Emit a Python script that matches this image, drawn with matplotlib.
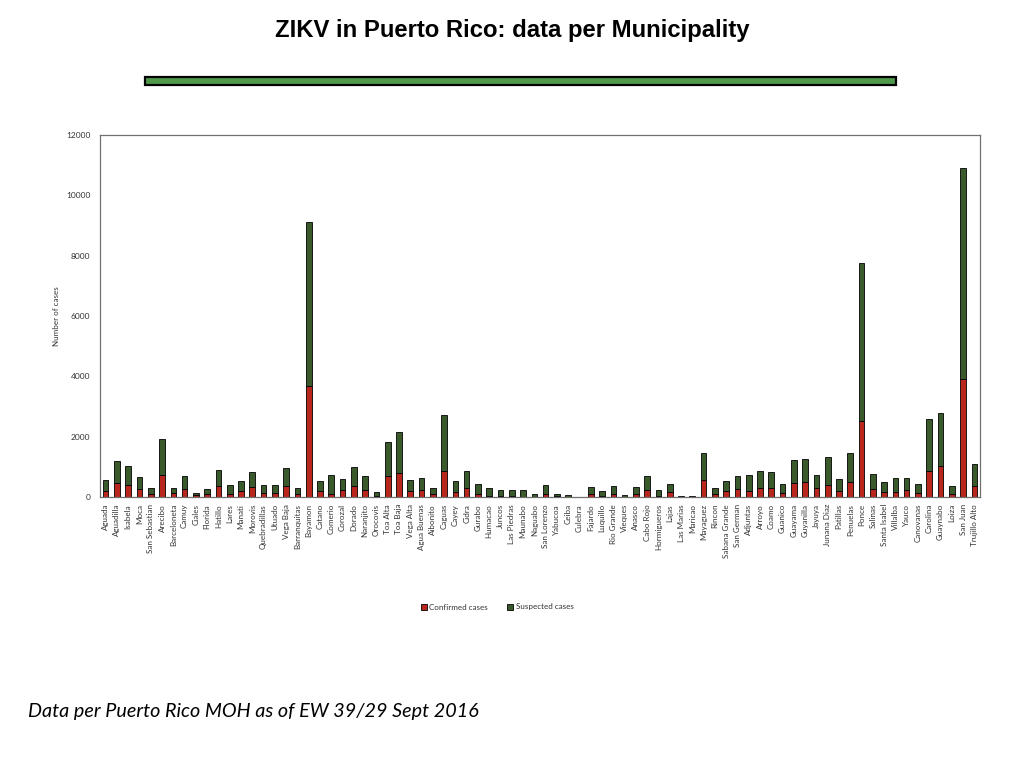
import matplotlib
matplotlib.use("Agg")
import matplotlib.pyplot as plt
from matplotlib.patches import Rectangle, Patch
import numpy as np

municipalities = [
    "Aguada", "Aguadilla", "Isabela", "Moca", "San Sebastian", "Arecibo", "Barceloneta",
    "Camuy", "Ciales", "Florida", "Hatillo", "Lares", "Manati", "Morovis", "Quebradillas",
    "Utuado", "Vega Baja", "Barranquitas", "Bayamon", "Catano", "Comerio", "Corozal",
    "Dorado", "Naranjito", "Orocovis", "Toa Alta", "Toa Baja", "Vega Alta", "Agua Buenas",
    "Aibonito", "Caguas", "Cayey", "Cidra", "Gurabo", "Humacao", "Juncos", "Las Piedras",
    "Maunabo", "Naguabo", "San Lorenzo", "Yabucoa", "Ceiba", "Culebra", "Fajardo",
    "Luquillo", "Rio Grande", "Vieques", "Anasco", "Cabo Rojo", "Hormigueros", "Lajas",
    "Las Marias", "Maricao", "Mayaguez", "Rincon", "Sabana Grande", "San German",
    "Adjuntas", "Arroyo", "Coamo", "Guanico", "Guayama", "Guyanilla", "Jayuya",
    "Junana Diaz", "Patillas", "Penuelas", "Ponce", "Salinas", "Santa Isabel", "Villalba",
    "Yauco", "Canovanas", "Carolina", "Guaynabo", "Loiza", "San Juan", "Trujillo Alto",
]

# total height (confirmed + suspected) and confirmed
totals = [
    550, 1180, 1040, 660, 310, 1910, 310,
    690, 130, 250, 880, 390, 520, 840, 390,
    410, 970, 300, 9125, 530, 720, 600,
    1000, 690, 155, 1820, 2150, 550, 640,
    290, 2730, 540, 850, 430, 290, 240, 240,
    220, 90, 390, 110, 65, 10, 330,
    190, 350, 55, 330, 700, 230, 430,
    33, 22, 1470, 290, 520, 690,
    730, 870, 840, 440, 1215, 1270, 720,
    1330, 610, 1470, 7766, 760, 510, 620,
    630, 430, 2575, 2770, 350, 10895, 1080,
]
confirmed = [
    200, 450, 390, 250, 90, 740, 120,
    250, 55, 90, 350, 100, 190, 330, 120,
    130, 350, 100, 3680, 200, 90, 220,
    350, 240, 30, 690, 780, 200, 240,
    90, 860, 180, 290, 90, 45, 30, 45,
    10, 10, 90, 20, 10, 3, 90,
    45, 90, 10, 90, 230, 45, 155,
    8, 5, 560, 90, 190, 250,
    190, 310, 290, 140, 450, 500, 290,
    390, 190, 510, 2519, 265, 155, 155,
    230, 120, 860, 1020, 90, 3900, 350,
]
suspected = [t - c for t, c in zip(totals, confirmed)]

title = "ZIKV in Puerto Rico: data per Municipality"
footer = "Data per Puerto Rico MOH as of EW 39/29 Sept 2016"
y_ticks = [0, 2000, 4000, 6000, 8000, 10000, 12000]

RED = "#b8261c"
GREEN = "#3b5a2b"
TXT = "#333333"
small_font = ["Lato", "Open Sans", "DejaVu Sans"]

fig = plt.figure(figsize=(10.24, 7.68), dpi=100)
fig.patch.set_facecolor("white")

# title
fig.text(0.5, 0.960, title, ha="center", va="center", fontsize=17.2, fontweight="bold",
         family=["Liberation Sans Narrow", "Liberation Sans", "DejaVu Sans"], color="black")

# green bar under the title
fig.patches.append(Rectangle((145 / 1024, 1 - 85 / 768), (896 - 145) / 1024, 8 / 768,
                             transform=fig.transFigure, facecolor="#4f9a4a",
                             edgecolor="black", linewidth=1.6))

ax = fig.add_axes([100 / 1024, 1 - 497 / 768, 880 / 1024, 362 / 768])
x = np.arange(len(municipalities))
ax.bar(x, confirmed, width=0.5, color=RED, edgecolor="black", linewidth=0.6, label="Confirmed cases")
ax.bar(x, suspected, width=0.5, bottom=confirmed, color=GREEN, edgecolor="black", linewidth=0.6,
       label="Suspected cases")

ax.set_xlim(-0.5, len(municipalities) - 0.5)
ax.set_ylim(0, 12000)
ax.set_yticks(y_ticks)
ax.set_yticklabels([str(v) for v in y_ticks], fontsize=6, color=TXT, family=small_font)
ax.set_xticks(x)
ax.set_xticklabels(municipalities, rotation=90, fontsize=5.8, color=TXT, family=small_font)
ax.tick_params(length=0, pad=5)
ax.tick_params(axis="y", pad=7)
for s in ax.spines.values():
    s.set_color("#707070")
    s.set_linewidth(0.9)
ax.set_ylabel("Number of cases", fontsize=5.8, color=TXT, family=small_font, labelpad=4)

handles = [Patch(facecolor=RED, edgecolor="black", linewidth=0.6, label="Confirmed cases"),
           Patch(facecolor=GREEN, edgecolor="black", linewidth=0.6, label="Suspected cases")]
fig.legend(handles=handles, loc="center", bbox_to_anchor=(497 / 1024, 1 - 607 / 768), ncol=2,
           frameon=False, prop={"size": 5.8, "family": small_font}, handlelength=0.8,
           handleheight=0.8, handletextpad=0.3, columnspacing=2.3, labelcolor=TXT)

fig.text(28 / 1024, 1 - 712 / 768, footer, ha="left", va="center", fontsize=14.2,
         style="italic", family=["Lato", "Open Sans", "DejaVu Sans"], color="black")

fig.savefig("out.png", dpi=100, facecolor="white")
